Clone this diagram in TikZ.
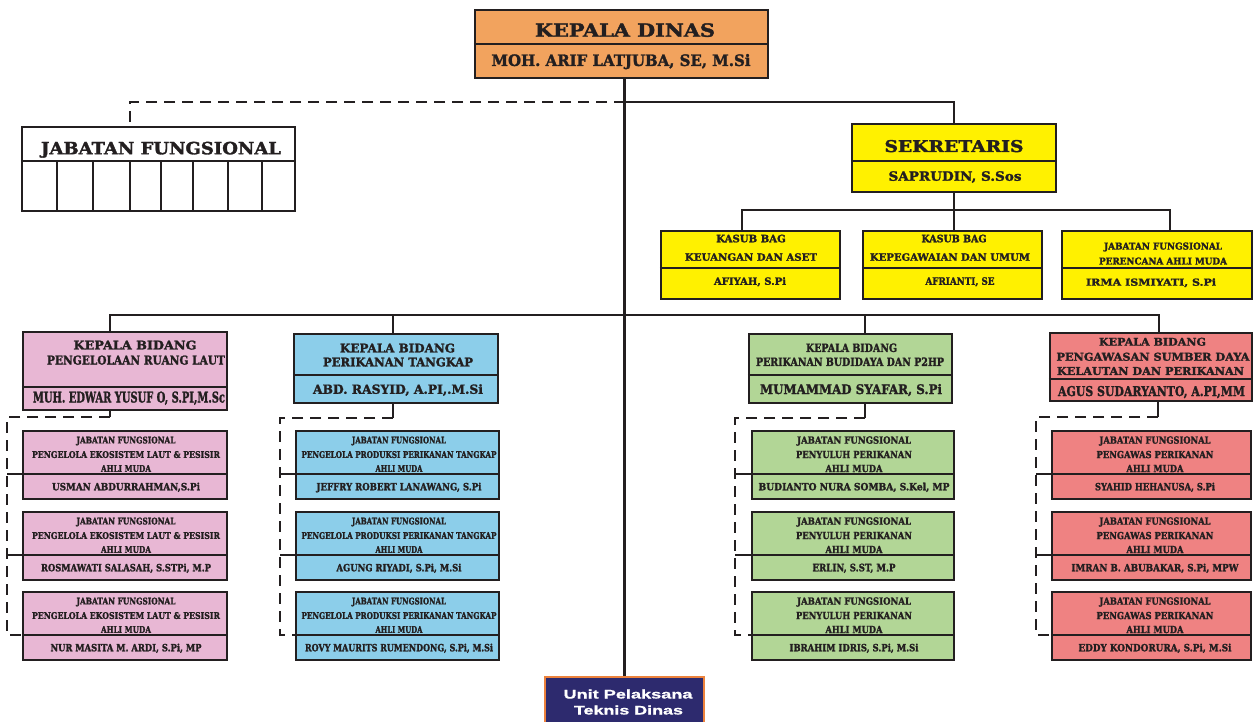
\documentclass[tikz,border=0pt]{standalone}
\usepackage{fontspec}
\usepackage{graphicx}
\setmainfont{DejaVu Serif}[BoldFeatures={FakeBold=1.8}]
\newfontfamily\upfont{Liberation Sans}[BoldFeatures={FakeBold=0.8}]
\definecolor{lineC}{RGB}{35,31,32}
\definecolor{kdC}{RGB}{242,163,94}
\definecolor{yelC}{RGB}{255,241,0}
\definecolor{pinkC}{RGB}{232,183,212}
\definecolor{blueC}{RGB}{140,206,234}
\definecolor{greenC}{RGB}{178,214,150}
\definecolor{redC}{RGB}{239,130,130}
\definecolor{navyC}{RGB}{45,42,110}
\definecolor{uptB}{RGB}{236,130,60}
\tikzset{
  box/.style={draw=lineC, line width=2.5pt, inner sep=0pt, rectangle},
  divl/.style={draw=lineC, line width=2pt},
  conn/.style={draw=lineC, line width=2.4pt},
  thinconn/.style={draw=lineC, line width=1.4pt},
  dashline/.style={draw=lineC, line width=2.4pt, dash pattern=on 11pt off 7pt},
  txt/.style={inner sep=0pt, text=lineC, anchor=base},
}
% box: name, colour, x1, y1, x2, y2
\newcommand\Bx[6]{\node[box, fill=#2, minimum width={#5-#3}, minimum height={#6-#4}] (#1) at ({(#3+#5)/2},{(#4+#6)/2}) {};}
% divider: box name, y
\newcommand\Dv[2]{\draw[divl] (#1.west |- 0,#2) -- (#1.east |- 0,#2);}
% text: name, xc, yc, width, cap height, text
\newcommand\T[6]{\node[txt] (#1) at (#2,#3+#5/2) {\resizebox{#4pt}{#5pt}{\bfseries #6}};}
% sub box: name, colour, x1, x2, top
\newcommand\Sub[5]{\Bx{#1}{#2}{#3}{#5}{#4}{#5+68}\Dv{#1}{#5+43}\coordinate (#1d) at (#3,#5+43);}
\newcommand\shA{6.8}
\newcommand\shN{7.6}
% sub texts: name, xc, top, W1, W2, text2, W3, WN, name text
\newcommand\SubT[9]{%
  \T{#1a}{#2}{#3+9}{#4}{\shA}{JABATAN FUNGSIONAL}
  \T{#1b}{#2}{#3+23.5}{#5}{\shA}{#6}
  \T{#1c}{#2}{#3+37.5}{#7}{\shA}{AHLI MUDA}
  \T{#1e}{#2}{#3+55.5}{#8}{\shN}{#9}}
\begin{document}
\begin{tikzpicture}[x=1pt,y=-1pt]
\useasboundingbox[fill=white] (0,0) rectangle (1256,722);

% ---------- connector points ----------
\coordinate (jB) at (625,102);
\coordinate (jfT) at (130,127);
\coordinate (sL) at (742,210);
\coordinate (sR) at (1170,210);
\coordinate (hL) at (110,315);
\coordinate (hR) at (1159,315);
\coordinate (hB) at (393,315);
\coordinate (hG) at (865,315);

% ---------- top ----------
\Bx{kd}{kdC}{475}{10}{768}{78}\Dv{kd}{44}
\T{tkd1}{625}{30}{180}{13.5}{KEPALA DINAS}
\T{tkd2}{621}{60}{259}{11.9}{MOH. ARIF LATJUBA, SE, M.Si}

\Bx{jf}{white}{22}{127}{295}{211}\Dv{jf}{161}
\foreach \cx in {57,93,130,161,193,228,262}{\draw[divl] (\cx,161) -- (\cx,211);}
\T{tjf}{161}{148}{240}{12.5}{JABATAN FUNGSIONAL}

\Bx{sk}{yelC}{852}{124}{1056}{192}\Dv{sk}{161}
\T{tsk1}{954}{146}{139}{12}{SEKRETARIS}
\T{tsk2}{955}{176}{133}{9.5}{SAPRUDIN, S.Sos}

\Bx{s1}{yelC}{661}{231}{840}{299}\Dv{s1}{268}
\T{ts1a}{751}{238.5}{69.5}{7.6}{KASUB BAG}
\T{ts1b}{751}{257}{132}{7.4}{KEUANGAN DAN ASET}
\T{ts1c}{750}{281}{72}{7.5}{AFIYAH, S.Pi}

\Bx{s2}{yelC}{863}{231}{1042}{299}\Dv{s2}{268}
\T{ts2a}{954}{238.5}{65}{7.6}{KASUB BAG}
\T{ts2b}{950}{257}{160}{7.4}{KEPEGAWAIAN DAN UMUM}
\T{ts2c}{960}{281}{69}{7.5}{AFRIANTI, SE}

\Bx{s3}{yelC}{1062}{231}{1252}{299}\Dv{s3}{268}
\T{ts3a}{1163}{246}{118}{7}{JABATAN FUNGSIONAL}
\T{ts3b}{1163}{261}{128}{7}{PERENCANA AHLI MUDA}
\T{ts3c}{1151}{282}{130}{7.3}{IRMA ISMIYATI, S.Pi}

% ---------- heads ----------
\Bx{p0}{pinkC}{23}{332}{227}{410}\Dv{p0}{387}
\T{tp0a}{135}{345}{123}{8.9}{KEPALA BIDANG}
\T{tp0b}{136}{360}{178}{9}{PENGELOLAAN RUANG LAUT}
\T{tp0c}{129}{397}{192}{11}{MUH. EDWAR YUSUF O, S.PI,M.Sc}

\Bx{b0}{blueC}{294}{334}{498}{403}\Dv{b0}{375}
\T{tb0a}{397.5}{348}{115}{8.9}{KEPALA BIDANG}
\T{tb0b}{398}{362}{150}{8.9}{PERIKANAN TANGKAP}
\T{tb0c}{398}{389}{170}{9.5}{ABD. RASYID, A.PI,.M.Si}

\Bx{g0}{greenC}{749}{334}{952}{403}\Dv{g0}{375}
\T{tg0a}{851.5}{347.7}{91}{8.5}{KEPALA BIDANG}
\T{tg0b}{850}{361.7}{188}{8.5}{PERIKANAN BUDIDAYA DAN P2HP}
\T{tg0c}{851}{389}{182}{10}{MUMAMMAD SYAFAR, S.Pi}

\Bx{r0}{redC}{1050}{333}{1252}{401}\Dv{r0}{379}
\T{tr0a}{1152.5}{341.7}{107}{7.9}{KEPALA BIDANG}
\T{tr0b}{1153}{356.7}{193}{8}{PENGAWASAN SUMBER DAYA}
\T{tr0c}{1150.5}{371}{187}{7.9}{KELAUTAN DAN PERIKANAN}
\T{tr0d}{1151.5}{391}{187}{10}{AGUS SUDARYANTO, A.PI,MM}

% ---------- sub boxes ----------
\Sub{p1}{pinkC}{23}{227}{431}
\Sub{p2}{pinkC}{23}{227}{512}
\Sub{p3}{pinkC}{23}{227}{592}
\SubT{tp1}{126}{431}{99}{188}{PENGELOLA EKOSISTEM LAUT \& PESISIR}{50}{148}{USMAN ABDURRAHMAN,S.Pi}
\SubT{tp2}{126}{512}{99}{188}{PENGELOLA EKOSISTEM LAUT \& PESISIR}{50}{170}{ROSMAWATI SALASAH, S.STPi, M.P}
\SubT{tp3}{126}{592}{99}{188}{PENGELOLA EKOSISTEM LAUT \& PESISIR}{50}{151}{NUR MASITA M. ARDI, S.Pi, MP}

\Sub{b1}{blueC}{296}{499}{431}
\Sub{b2}{blueC}{296}{499}{512}
\Sub{b3}{blueC}{296}{499}{592}
\SubT{tb1}{399}{431}{94}{195}{PENGELOLA PRODUKSI PERIKANAN TANGKAP}{47}{165}{JEFFRY ROBERT LANAWANG, S.Pi}
\SubT{tb2}{399}{512}{94}{195}{PENGELOLA PRODUKSI PERIKANAN TANGKAP}{47}{125}{AGUNG RIYADI, S.Pi, M.Si}
\SubT{tb3}{399}{592}{94}{195}{PENGELOLA PRODUKSI PERIKANAN TANGKAP}{47}{188}{ROVY MAURITS RUMENDONG, S.Pi, M.Si}

\renewcommand\shA{7.2}
\Sub{g1}{greenC}{752}{954}{431}
\Sub{g2}{greenC}{752}{954}{512}
\Sub{g3}{greenC}{752}{954}{592}
\SubT{tg1}{854}{431}{114}{116}{PENYULUH PERIKANAN}{57}{191}{BUDIANTO NURA SOMBA, S.Kel, MP}
\SubT{tg2}{854}{512}{114}{116}{PENYULUH PERIKANAN}{57}{83}{ERLIN, S.ST, M.P}
\SubT{tg3}{854}{592}{114}{116}{PENYULUH PERIKANAN}{57}{129}{IBRAHIM IDRIS, S.Pi, M.Si}

\Sub{r1}{redC}{1052}{1251}{431}
\Sub{r2}{redC}{1052}{1251}{512}
\Sub{r3}{redC}{1052}{1251}{592}
\SubT{tr1}{1155}{431}{111}{117}{PENGAWAS PERIKANAN}{57}{120}{SYAHID HEHANUSA, S.Pi}
\SubT{tr2}{1155}{512}{111}{117}{PENGAWAS PERIKANAN}{57}{167}{IMRAN B. ABUBAKAR, S.Pi, MPW}
\SubT{tr3}{1155}{592}{111}{117}{PENGAWAS PERIKANAN}{57}{153}{EDDY KONDORURA, S.Pi, M.Si}

% ---------- UPT ----------
\node[box, draw=uptB, fill=navyC, minimum width=159, minimum height=53] (upt) at (624.5,703.5) {};
\T{tu1}{628}{694}{129}{9}{\upfont\color{white}Unit Pelaksana}
\T{tu2}{628.5}{710}{109}{9}{\upfont\color{white}Teknis Dinas}

% ---------- connector lines ----------
\draw[conn] (kd.south -| upt.north) -- (upt.north);
\draw[dashline] (jB) -| (jfT);
\draw[conn] (jB) -| (sk.north);

\draw[conn] (sk.south) -- (sk.south |- sL);
\draw[conn] (sL |- s1.north) -- (sL) -- (sR) -- (sR |- s3.north);
\draw[conn] (sk.south |- sL) -- (sk.south |- s2.north);

\draw[conn] (hL |- p0.north) -- (hL) -- (hR) -- (hR |- r0.north);
\draw[thinconn] (hB) -- (hB |- b0.north);
\draw[thinconn] (hG) -- (hG |- g0.north);

% pink column
\coordinate (pD) at (110,417);
\coordinate (pV) at (7,417);
\draw[conn] (pD |- p0.south) -- (pD);
\draw[dashline] (pD) -- (pV) -- (pV |- p3d) -- (p3d);
\draw[conn] (pV |- p1d) -- (p1d);
\draw[conn] (pV |- p2d) -- (p2d);
% blue column
\coordinate (bD) at (393,418);
\coordinate (bV) at (280,418);
\draw[conn] (bD |- b0.south) -- (bD);
\draw[dashline] (bD) -- (bV) -- (bV |- b3d) -- (b3d);
\draw[conn] (bV |- b1d) -- (b1d);
\draw[conn] (bV |- b2d) -- (b2d);
% green column
\coordinate (gD) at (865,418);
\coordinate (gV) at (735,418);
\draw[conn] (gD |- g0.south) -- (gD);
\draw[dashline] (gD) -- (gV) -- (gV |- g3d) -- (g3d);
\draw[conn] (gV |- g1d) -- (g1d);
\draw[conn] (gV |- g2d) -- (g2d);
% red column
\coordinate (rD) at (1158,417);
\coordinate (rV) at (1036,417);
\draw[conn] (rD |- r0.south) -- (rD);
\draw[dashline] (rD) -- (rV) -- (rV |- r3d) -- (r3d);
\draw[conn] (rV |- r1d) -- (r1d);
\draw[conn] (rV |- r2d) -- (r2d);
\end{tikzpicture}
\end{document}
